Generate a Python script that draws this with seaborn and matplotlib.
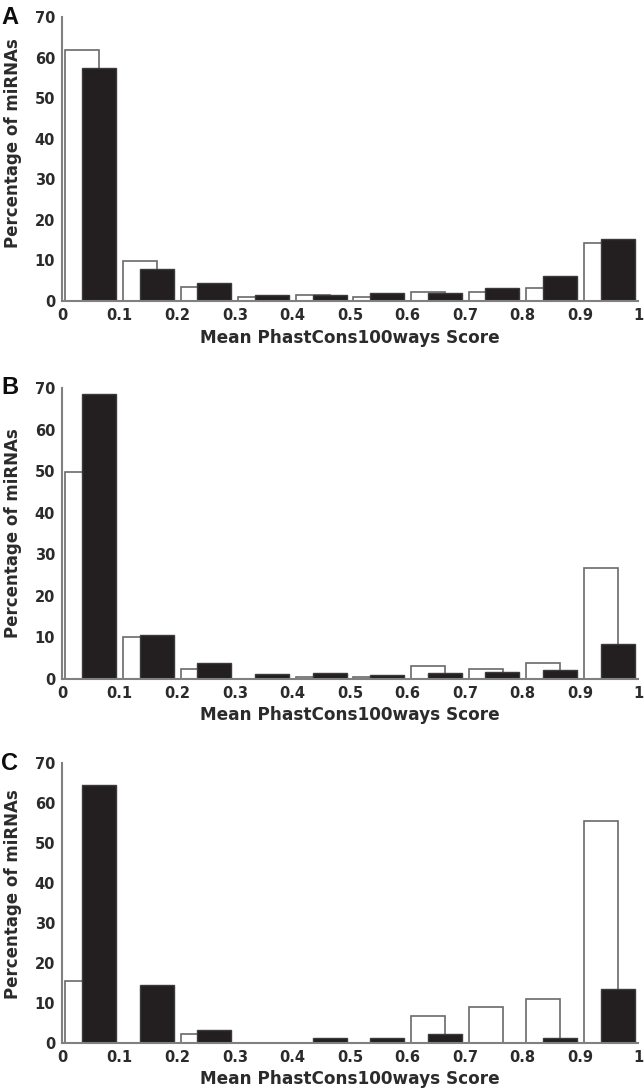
import matplotlib
matplotlib.use("Agg")
import matplotlib.pyplot as plt
import seaborn as sns
import numpy as np
import pandas as pd

# bins of the mean PhastCons100ways score
bin_centers = [0.05, 0.15, 0.25, 0.35, 0.45, 0.55, 0.65, 0.75, 0.85, 0.95]
x_ticks = [0, 0.1, 0.2, 0.3, 0.4, 0.5, 0.6, 0.7, 0.8, 0.9, 1.0]
x_tick_labels = ["0", "0.1", "0.2", "0.3", "0.4", "0.5", "0.6", "0.7", "0.8", "0.9", "1"]
y_ticks = [0, 10, 20, 30, 40, 50, 60, 70]

# percentage of miRNAs per bin (white / black series)
a_white = [61.9, 9.9, 3.4, 1.1, 1.5, 1.0, 2.3, 2.3, 3.3, 14.2]
a_black = [57.4, 7.8, 4.4, 1.6, 1.6, 2.0, 2.0, 3.2, 6.2, 15.2]

b_white = [49.8, 10.2, 2.5, 0.0, 0.6, 0.5, 3.2, 2.5, 3.8, 26.8]
b_black = [68.6, 10.5, 3.8, 1.3, 1.5, 1.0, 1.5, 1.8, 2.2, 8.4]

c_white = [15.6, 0.0, 2.3, 0.0, 0.0, 0.0, 6.7, 9.0, 11.1, 55.6]
c_black = [64.4, 14.4, 3.2, 0.0, 1.2, 1.2, 2.2, 0.0, 1.2, 13.4]

# letter, white, black, pixel row of y=0, pixel row of y=70, ylabel centre (axes frac)
panels = [
    ("A", a_white, a_black, 301, 17, 0.555),
    ("B", b_white, b_black, 679, 388, 0.5),
    ("C", c_white, c_black, 1043, 763, 0.53),
]

sns.set_style("white")
plt.rcParams["font.family"] = ["DejaVu Sans"]
plt.rcParams["font.weight"] = "bold"

W, H = 644, 1089
fig = plt.figure(figsize=(W / 100, H / 100), dpi=100)

text_col = "#2b2b2b"
spine_col = "#808080"
offset = 0.0145

for letter, white, black, y0, y70, ylab_y in panels:
    ax = fig.add_axes([62 / W, (H - y0) / H, 576 / W, (y0 - y70) / H])
    df_w = pd.DataFrame({"score": np.round(np.array(bin_centers) - offset, 4), "pct": white})
    df_b = pd.DataFrame({"score": np.round(np.array(bin_centers) + offset, 4), "pct": black})

    sns.barplot(data=df_w, x="score", y="pct", native_scale=True, width=0.59,
                color="white", edgecolor="#6a6a6a", linewidth=1.2,
                saturation=1, errorbar=None, ax=ax)
    sns.barplot(data=df_b, x="score", y="pct", native_scale=True, width=0.59,
                color="#231f20", edgecolor="#3a3a3a", linewidth=1.0,
                saturation=1, errorbar=None, ax=ax)

    ax.set_xlim(0, 1)
    ax.set_ylim(0, 70)
    ax.set_xticks(x_ticks)
    ax.set_xticklabels(x_tick_labels)
    ax.set_yticks(y_ticks)
    ax.tick_params(length=0, pad=5, labelsize=10.5, labelcolor=text_col)
    for lab in ax.get_xticklabels() + ax.get_yticklabels():
        lab.set_fontweight("bold")

    ax.set_xlabel("Mean PhastCons100ways Score", fontsize=12.2, fontweight="bold",
                  color=text_col, labelpad=4)
    ax.set_ylabel("Percentage of miRNAs", fontsize=12, fontweight="bold",
                  color=text_col)
    ax.yaxis.set_label_coords(-0.069, ylab_y)

    sns.despine(ax=ax)
    for side in ["left", "bottom"]:
        ax.spines[side].set_color(spine_col)
        ax.spines[side].set_linewidth(1.5)

    fig.text(1 / W, 1 - y70 / H, letter, fontsize=17, fontweight="heavy",
             family="Liberation Sans", color="#0d0d0d",
             ha="left", va="center")

fig.savefig("out.png", dpi=100, facecolor="white")
